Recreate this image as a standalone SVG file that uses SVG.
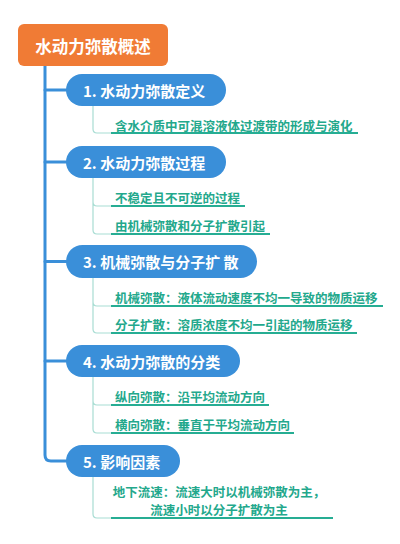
<svg xmlns="http://www.w3.org/2000/svg" width="400" height="544" viewBox="0 0 400 544">
<style>
.root{fill:#f07b35}
.pill{fill:#3a8fd9}
.rt{font-family:"Noto Sans CJK SC","Liberation Sans",sans-serif;font-weight:bold;font-size:16.5px;fill:#fff;dominant-baseline:central}
.pt{font-family:"Noto Sans CJK SC","Liberation Sans",sans-serif;font-weight:bold;font-size:15px;fill:#fff;dominant-baseline:central}
.lt{font-family:"Noto Sans CJK SC","Liberation Sans",sans-serif;font-weight:bold;font-size:12.5px;fill:#23a88c;dominant-baseline:central}
.main{fill:none;stroke:#3a8fd9;stroke-width:3;stroke-linecap:round;stroke-linejoin:round}
.sub{fill:none;stroke:#a8ddd3;stroke-width:1.2}
.ul{fill:none;stroke:#26ad93;stroke-width:2}
</style>
<rect width="400" height="544" fill="#fff"/>
<g id="connectors">
<path class="main" d="M45,66 V455 Q45,461 51,461 H66"/>
<path class="main" d="M45,90 H66 M45,162 H66 M45,261.5 H66 M45,361 H66"/>
<path class="sub" d="M93,106 V129 Q93,133 97,133 H111"/>
<path class="sub" d="M93,178 V202 Q93,206 97,206 H111 M93,202 V230 Q93,234 97,234 H111"/>
<path class="sub" d="M93,278 V302 Q93,306 97,306 H111 M93,302 V329 Q93,333 97,333 H111"/>
<path class="sub" d="M93,377 V401 Q93,405 97,405 H111 M93,401 V429 Q93,433 97,433 H111"/>
<path class="sub" d="M93,477 V514 Q93,518 97,518 H111"/>
</g>
<g id="root"><rect class="root" x="18" y="24" width="150" height="42" rx="6"/><text class="rt" x="93" y="46" text-anchor="middle">水动力弥散概述</text></g>
<g id="n1"><rect class="pill" x="66" y="74" width="160" height="32" rx="16"/><text class="pt" x="83" y="90">1. 水动力弥散定义</text></g>
<g id="n1a"><text class="lt" x="115" y="125">含水介质中可混溶液体过渡带的形成与演化</text><path class="ul" d="M111,133 H358"/></g>
<g id="n2"><rect class="pill" x="66" y="146" width="160" height="32" rx="16"/><text class="pt" x="83" y="162">2. 水动力弥散过程</text></g>
<g id="n2a"><text class="lt" x="115" y="197">不稳定且不可逆的过程</text><path class="ul" d="M111,206 H245"/></g>
<g id="n2b"><text class="lt" x="115" y="225">由机械弥散和分子扩散引起</text><path class="ul" d="M111,234 H270"/></g>
<g id="n3"><rect class="pill" x="66" y="245" width="191" height="33" rx="16.5"/><text class="pt" x="83" y="261.5">3. 机械弥散与分子扩 散</text></g>
<g id="n3a"><text class="lt" x="115" y="297">机械弥散：液体流动速度不均一导致的物质运移</text><path class="ul" d="M111,306 H383"/></g>
<g id="n3b"><text class="lt" x="115" y="324">分子扩散：溶质浓度不均一引起的物质运移</text><path class="ul" d="M111,333 H357"/></g>
<g id="n4"><rect class="pill" x="66" y="345" width="174" height="32" rx="16"/><text class="pt" x="83" y="361">4. 水动力弥散的分类</text></g>
<g id="n4a"><text class="lt" x="115" y="396">纵向弥散：沿平均流动方向</text><path class="ul" d="M111,405 H269"/></g>
<g id="n4b"><text class="lt" x="115" y="424">横向弥散：垂直于平均流动方向</text><path class="ul" d="M111,433 H294"/></g>
<g id="n5"><rect class="pill" x="66" y="445" width="114" height="32" rx="16"/><text class="pt" x="83" y="461">5. 影响因素</text></g>
<g id="n5a"><text class="lt" text-anchor="middle"><tspan x="219" y="491">地下流速：流速大时以机械弥散为主，</tspan><tspan x="219" y="509">流速小时以分子扩散为主</tspan></text><path class="ul" d="M111,518 H333"/></g>
</svg>
